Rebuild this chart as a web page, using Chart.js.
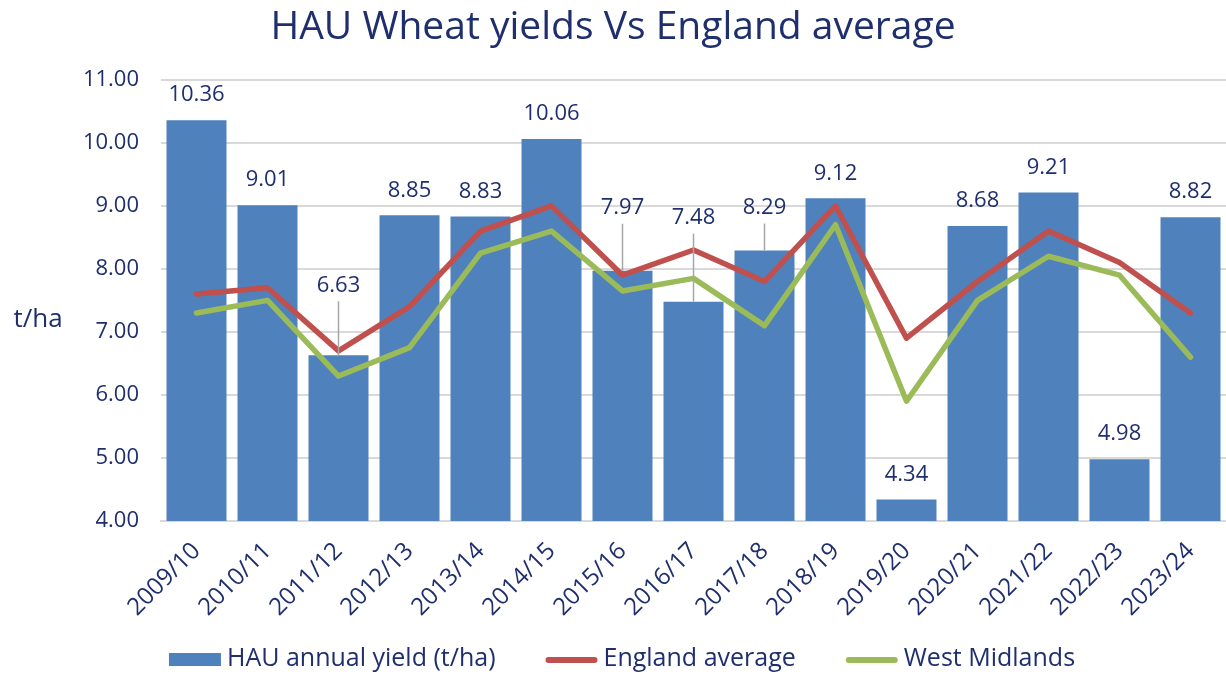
<!DOCTYPE html>
<html>
<head>
<meta charset="utf-8">
<title>HAU Wheat yields Vs England average</title>
<script src="https://cdn.jsdelivr.net/npm/chart.js@4.4.1/dist/chart.umd.min.js"></script>
<style>
  html, body { margin: 0; padding: 0; background: #fff; }
  #wrap { width: 1226px; height: 675px; position: relative; }
</style>
</head>
<body>
<div id="wrap"><canvas id="chart"></canvas></div>
<script>
// datos
const seasons = ['2009/10', '2010/11', '2011/12', '2012/13', '2013/14', '2014/15', '2015/16', '2016/17',
                 '2017/18', '2018/19', '2019/20', '2020/21', '2021/22', '2022/23', '2023/24'];
const hauYield = [10.36, 9.01, 6.63, 8.85, 8.83, 10.06, 7.97, 7.48, 8.29, 9.12, 4.34, 8.68, 9.21, 4.98, 8.82];
const englandAvg = [7.6, 7.7, 6.7, 7.4, 8.6, 9.0, 7.9, 8.3, 7.8, 9.0, 6.9, 7.8, 8.6, 8.1, 7.3];
const westMidlands = [7.3, 7.5, 6.3, 6.75, 8.25, 8.6, 7.65, 7.85, 7.1, 8.7, 5.9, 7.5, 8.2, 7.9, 6.6];
const yTicks = [4, 5, 6, 7, 8, 9, 10, 11];

// etiquetas que estan subidas a mano (px extra) con linea guia
const labelLift = [0, 0, 45, 0, 0, 0, 38, 59, 18, 0, 0, 0, 0, 0, 0];

const navy = '#1f2f6e';
const fontFam = '"Open Sans", "DejaVu Sans", sans-serif';

// etiquetas de valor encima de las barras, titulo del eje y y leyenda
const barLabels = {
  id: 'barLabels',
  afterDatasetsDraw(chart) {
    const ctx = chart.ctx;
    const meta = chart.getDatasetMeta(0);
    ctx.save();
    ctx.font = '22px ' + fontFam;
    ctx.fillStyle = navy;
    ctx.textAlign = 'center';
    ctx.textBaseline = 'middle';
    meta.data.forEach((bar, i) => {
      const ly = bar.y - 25 - labelLift[i];
      if (labelLift[i] > 0) {
        ctx.strokeStyle = '#a6a6a6';
        ctx.lineWidth = 1.5;
        ctx.beginPath();
        ctx.moveTo(bar.x, ly + 16);
        ctx.lineTo(bar.x, bar.y);
        ctx.stroke();
      }
      ctx.fillText(hauYield[i].toFixed(2), bar.x, ly);
    });
    ctx.restore();
  },
  afterDraw(chart) {
    const ctx = chart.ctx;
    const y = chart.scales.y;
    ctx.save();
    ctx.font = '26px ' + fontFam;
    ctx.fillStyle = navy;
    ctx.textAlign = 'center';
    ctx.textBaseline = 'middle';
    ctx.fillText('t/ha', 38, y.getPixelForValue(7.2));

    // leyenda abajo (la del plugin no deja poner tanto hueco entre items)
    const sw = 52, gap = 6, between = 50, ly = 659;
    ctx.font = '25px ' + fontFam;
    const sets = chart.data.datasets;
    const widths = sets.map(ds => sw + gap + ctx.measureText(ds.label).width);
    const total = widths.reduce((a, b) => a + b, 0) + between * (sets.length - 1);
    let x = chart.width / 2 + 9 - total / 2;
    ctx.textAlign = 'left';
    sets.forEach((ds, i) => {
      if (ds.type === 'line') {
        ctx.strokeStyle = ds.borderColor;
        ctx.lineWidth = 6;
        ctx.lineCap = 'round';
        ctx.beginPath();
        ctx.moveTo(x + 3, ly + 1);
        ctx.lineTo(x + sw - 3, ly + 1);
        ctx.stroke();
      } else {
        ctx.fillStyle = ds.backgroundColor;
        ctx.fillRect(x, ly - 6, sw, 13);
      }
      ctx.fillStyle = navy;
      ctx.fillText(ds.label, x + sw + gap, ly);
      x += widths[i] + between;
    });
    ctx.restore();
  }
};

document.addEventListener('DOMContentLoaded', () => {
  const ctx = document.getElementById('chart').getContext('2d');
  new Chart(ctx, {
    type: 'bar',
    data: {
      labels: seasons,
      datasets: [
        {
          label: 'HAU annual yield (t/ha)',
          data: hauYield,
          backgroundColor: '#4f81bd',
          borderWidth: 0,
          categoryPercentage: 1,
          barPercentage: 0.845,
          order: 2
        },
        {
          type: 'line',
          label: 'England average',
          data: englandAvg,
          borderColor: '#c0504d',
          backgroundColor: '#c0504d',
          borderWidth: 5.5,
          borderCapStyle: 'round',
          borderJoinStyle: 'round',
          pointRadius: 0,
          tension: 0,
          order: 0
        },
        {
          type: 'line',
          label: 'West Midlands',
          data: westMidlands,
          borderColor: '#9bbb59',
          backgroundColor: '#9bbb59',
          borderWidth: 5.5,
          borderCapStyle: 'round',
          borderJoinStyle: 'round',
          pointRadius: 0,
          tension: 0,
          order: 1
        }
      ]
    },
    options: {
      responsive: true,
      maintainAspectRatio: false,
      animation: false,
      layout: { padding: { left: 0, right: 0, top: 0, bottom: 0 } },
      plugins: {
        title: {
          display: true,
          text: 'HAU Wheat yields Vs England average',
          color: navy,
          font: { family: fontFam, size: 39, weight: 'normal' },
          padding: { top: 4, bottom: 29 }
        },
        legend: { display: false },
        tooltip: { enabled: false }
      },
      scales: {
        x: {
          grid: { display: false },
          border: { display: true, color: '#d9d9d9', width: 2 },
          ticks: {
            color: navy,
            font: { family: fontFam, size: 24 },
            minRotation: 45,
            maxRotation: 45,
            padding: 8
          },
          afterFit(scale) { scale.height = 154; }
        },
        y: {
          min: 4,
          max: 11,
          border: { display: false },
          grid: { color: '#d9d9d9', lineWidth: 2, drawTicks: false },
          afterBuildTicks(scale) { scale.ticks = yTicks.map(v => ({ value: v })); },
          ticks: {
            color: navy,
            font: { family: fontFam, size: 22 },
            padding: 22,
            callback: v => Number(v).toFixed(2)
          },
          afterFit(scale) { scale.width = 161; }
        }
      }
    },
    plugins: [barLabels]
  });
});
</script>
</body>
</html>
